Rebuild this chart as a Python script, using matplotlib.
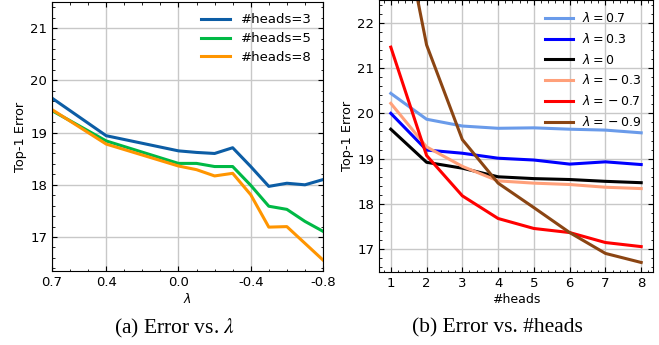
import matplotlib.pyplot as plt
from matplotlib.ticker import MultipleLocator

# Panel (a): error vs lambda
lambdas = [0.7, 0.4, 0.0, -0.1, -0.2, -0.3, -0.4, -0.5, -0.6, -0.7, -0.8]
err_h3 = [19.66, 18.94, 18.65, 18.62, 18.60, 18.71, 18.35, 17.97, 18.03, 18.00, 18.10]
err_h5 = [19.42, 18.84, 18.41, 18.41, 18.35, 18.35, 17.99, 17.59, 17.53, 17.30, 17.11]
err_h8 = [19.44, 18.78, 18.36, 18.29, 18.17, 18.22, 17.81, 17.19, 17.20, 16.88, 16.56]
lambda_ticks = [0.7, 0.4, 0.0, -0.4, -0.8]
lambda_ticklabels = ['0.7', '0.4', '0.0', '-0.4', '-0.8']

# Panel (b): error vs number of heads
heads = [1, 2, 3, 4, 5, 6, 7, 8]
err_l07 = [20.44, 19.87, 19.72, 19.67, 19.68, 19.65, 19.63, 19.57]
err_l03 = [20.00, 19.19, 19.12, 19.01, 18.97, 18.88, 18.93, 18.87]
err_l0 = [19.65, 18.92, 18.79, 18.60, 18.56, 18.54, 18.50, 18.47]
err_lm03 = [20.22, 19.26, 18.83, 18.51, 18.46, 18.43, 18.37, 18.34]
err_lm07 = [21.46, 19.07, 18.18, 17.68, 17.46, 17.37, 17.15, 17.06]
err_lm09 = [25.5, 21.51, 19.42, 18.46, 17.92, 17.37, 16.91, 16.71]

plt.rcParams.update({
    'font.family': 'DejaVu Sans',
    'mathtext.fontset': 'dejavusans',
    'xtick.direction': 'in', 'ytick.direction': 'in',
    'xtick.top': True, 'ytick.right': True,
    'xtick.minor.visible': True, 'ytick.minor.visible': True,
    'xtick.major.size': 3.5, 'ytick.major.size': 3.5,
    'xtick.minor.size': 1.8, 'ytick.minor.size': 1.8,
    'axes.linewidth': 0.8,
})

fig = plt.figure(figsize=(6.59, 3.45), dpi=100)
ax1 = fig.add_axes([52/659, 1 - 271/345, 271/659, 269/345])
ax2 = fig.add_axes([379/659, 1 - 272/345, 274/659, 272/345])

lw = 2.2
ax1.plot(lambdas, err_h3, color='#0C5DA5', lw=lw, label='#heads=3')
ax1.plot(lambdas, err_h5, color='#00B945', lw=lw, label='#heads=5')
ax1.plot(lambdas, err_h8, color='#FF9500', lw=lw, label='#heads=8')
ax1.set_xlim(0.7, -0.8)
ax1.set_ylim(16.35, 21.5)
ax1.set_xticks(lambda_ticks)
ax1.set_xticklabels(lambda_ticklabels)
ax1.xaxis.set_minor_locator(MultipleLocator(0.1))
ax1.yaxis.set_major_locator(MultipleLocator(1))
ax1.yaxis.set_minor_locator(MultipleLocator(0.2))
ax1.set_xlabel(r'$\lambda$', fontsize=9, labelpad=2)
ax1.set_ylabel('Top-1 Error', fontsize=9.3, labelpad=2)
ax1.grid(True, color='#c8c8c8', lw=1.0)
ax1.tick_params(labelsize=9.5)
ax1.legend(loc='upper right', frameon=False, fontsize=9.5, handlelength=2.2,
           handletextpad=0.8, borderaxespad=0.45, labelspacing=0.45)

ax2.plot(heads, err_l07, color='#6A9BEA', lw=lw, label=r'$\lambda=0.7$')
ax2.plot(heads, err_l03, color='#0000FF', lw=lw, label=r'$\lambda=0.3$')
ax2.plot(heads, err_l0, color='black', lw=lw, label=r'$\lambda=0$')
ax2.plot(heads, err_lm03, color='#FFA07A', lw=lw, label=r'$\lambda={}-0.3$')
ax2.plot(heads, err_lm07, color='#FF0000', lw=lw, label=r'$\lambda={}-0.7$')
ax2.plot(heads, err_lm09, color='#8B4513', lw=lw, label=r'$\lambda={}-0.9$')
ax2.set_xlim(0.67, 8.33)
ax2.set_ylim(16.5, 22.5)
ax2.set_xticks(heads)
ax2.xaxis.set_minor_locator(MultipleLocator(0.2))
ax2.yaxis.set_major_locator(MultipleLocator(1))
ax2.yaxis.set_minor_locator(MultipleLocator(0.2))
ax2.set_xlabel('#heads', fontsize=9, labelpad=2)
ax2.set_ylabel('Top-1 Error', fontsize=9.3, labelpad=2)
ax2.grid(True, color='#c8c8c8', lw=1.0)
ax2.tick_params(labelsize=9.5)
ax2.legend(loc='upper right', frameon=False, fontsize=9, handlelength=2.3,
           handletextpad=0.7, borderaxespad=0.5, labelspacing=0.54)

fig.text(175/659, 1 - 328/345, r'(a) Error vs. $\lambda$', ha='center', va='center',
         fontsize=15.5, family='Liberation Serif', math_fontfamily='stix')
fig.text(497/659, 1 - 328/345, '(b) Error vs. #heads', ha='center', va='center',
         fontsize=15.5, family='Liberation Serif')

plt.savefig('out.png', dpi=100)
